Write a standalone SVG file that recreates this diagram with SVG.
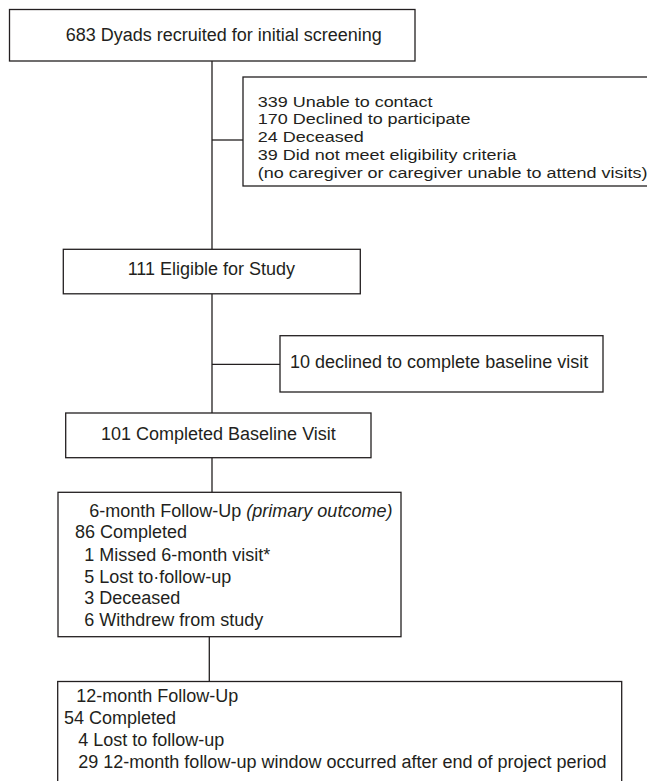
<svg xmlns="http://www.w3.org/2000/svg" width="647" height="781" viewBox="0 0 647 781">
<style>
rect{fill:#fff;stroke:#231f20;stroke-width:1.3}
line{stroke:#231f20;stroke-width:1.3}
text{font-family:"Liberation Sans",Arial,sans-serif;font-size:18px;fill:#231f20}
.s{font-size:15px}
.i{font-style:italic}
</style>
<rect x="0" y="0" width="647" height="781" style="fill:#fff;stroke:none"/>
<g id="connectors">
<line x1="212" y1="61" x2="212" y2="249.5"/>
<line x1="212" y1="140" x2="243" y2="140"/>
<line x1="212" y1="294" x2="212" y2="413"/>
<line x1="212" y1="364.3" x2="280" y2="364.3"/>
<line x1="212" y1="457.7" x2="212" y2="492.3"/>
<line x1="209.3" y1="636.7" x2="209.3" y2="681.5"/>
</g>
<g id="n1"><rect x="9.5" y="9.5" width="405.5" height="51.5"/><text x="65.7" y="41">683 Dyads recruited for initial screening</text></g>
<g id="n2"><rect x="243" y="77" width="420" height="109"/>
<g transform="translate(257.7 0) scale(1.2 1)">
<text class="s" x="0" y="106.7">339 Unable to contact</text>
<text class="s" x="0" y="124.4">170 Declined to participate</text>
<text class="s" x="0" y="142.2">24 Deceased</text>
<text class="s" x="0" y="160">39 Did not meet eligibility criteria</text>
<text class="s" x="0" y="177.7">(no caregiver or caregiver unable to attend visits)</text>
</g></g>
<g id="n3"><rect x="63.3" y="249.3" width="297" height="44.5"/><text x="127.7" y="275">111 Eligible for Study</text></g>
<g id="n4"><rect x="280" y="335.7" width="323" height="56.3"/><text x="290" y="368">10 declined to complete baseline visit</text></g>
<g id="n5"><rect x="65.7" y="413" width="305.3" height="44.7"/><text x="101" y="440">101 Completed Baseline Visit</text></g>
<g id="n6"><rect x="58" y="492.3" width="343" height="144.4"/>
<text x="89.3" y="516.7">6-month Follow-Up <tspan class="i">(primary outcome)</tspan></text>
<text x="75" y="538.3">86 Completed</text>
<text x="84.3" y="561">1 Missed 6-month visit*</text>
<text x="84.3" y="582.5">5 Lost to·follow-up</text>
<text x="84.3" y="604">3 Deceased</text>
<text x="84.3" y="626">6 Withdrew from study</text></g>
<g id="n7"><rect x="57.7" y="681.5" width="564" height="120"/>
<text x="76.2" y="701.7">12-month Follow-Up</text>
<text x="63.9" y="724.3">54 Completed</text>
<text x="78.3" y="746">4 Lost to follow-up</text>
<text x="78.3" y="767.7">29 12-month follow-up window occurred after end of project period</text></g>
</svg>
